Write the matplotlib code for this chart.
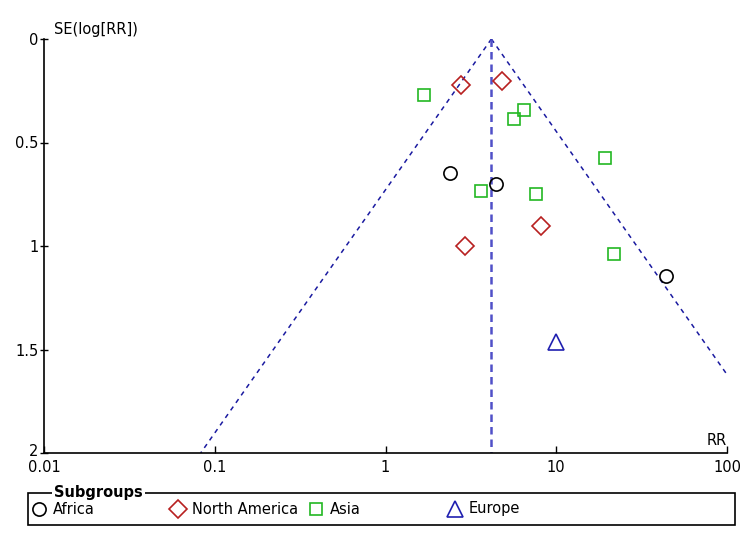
import numpy as np
import matplotlib
matplotlib.use('Agg')
from matplotlib import pyplot as plt
from matplotlib.patches import Rectangle
from matplotlib.transforms import ScaledTranslation

# study estimates (RR, SE of log RR)
africa_rr = [2.4, 4.46, 44.0]
africa_se = [0.647, 0.70, 1.145]
namerica_rr = [2.78, 4.83, 8.17, 2.94]
namerica_se = [0.222, 0.203, 0.903, 1.0]
asia_rr = [1.67, 6.5, 5.68, 19.4, 3.64, 7.64, 21.8]
asia_se = [0.27, 0.343, 0.386, 0.575, 0.734, 0.749, 1.039]
europe_rr = [10.0]
europe_se = [1.464]
pooled_rr = 4.17

x_ticks = [0.01, 0.1, 1, 10, 100]
x_labels = ['0.01', '0.1', '1', '10', '100']
y_ticks = [0, 0.5, 1, 1.5, 2]
y_labels = ['0', '0.5', '1', '1.5', '2']

W, H = 750, 537
fig = plt.figure(figsize=(7.5, 5.37), dpi=100)
ax = fig.add_axes([44 / W, 1 - 453 / H, (727 - 44) / W, (453 - 39) / H])

# funnel lines
se_line = np.array([0.0, 2.0])
ax.plot(pooled_rr * np.exp(-1.96 * se_line), se_line, ls=(0, (3, 3)), c='#1a1aa0', lw=1.1)
ax.plot(pooled_rr * np.exp(1.96 * se_line), se_line, ls=(0, (3, 3)), c='#1a1aa0', lw=1.1)
ax.plot([pooled_rr, pooled_rr], [0, 2], ls=(0, (3, 2)), c='#5050c8', lw=1.8)

ax.plot(africa_rr, africa_se, 'o', mfc='none', mec='black', ms=9.5, mew=1.2, ls='none')
ax.plot(namerica_rr, namerica_se, 'D', mfc='none', mec='#b82020', ms=9, mew=1.2, ls='none')
ax.plot(asia_rr, asia_se, 's', mfc='none', mec='#22b822', ms=8, mew=1.2, ls='none')
ax.plot(europe_rr, europe_se, '^', mfc='none', mec='#2020b0', ms=12, mew=1.2, ls='none')

ax.set_xscale('log')
ax.set_xlim(0.01, 100)
ax.set_ylim(2, 0)
ax.set_xticks(x_ticks)
ax.set_xticklabels(x_labels)
ax.set_yticks(y_ticks)
ax.set_yticklabels(y_labels)
ax.minorticks_off()
ax.tick_params(axis='x', labelsize=10.5, length=5, width=1, direction='in', pad=5)
ax.tick_params(axis='y', labelsize=10.5, length=6, width=1, direction='inout', pad=1)
ax.spines['top'].set_visible(False)
ax.spines['right'].set_visible(False)
ax.spines['left'].set_linewidth(1.2)
ax.spines['bottom'].set_linewidth(1.2)
ax.patch.set_visible(False)

# nudge the bottom y label up so it clears the first x label
lab = ax.get_yticklabels()[-1]
lab.set_transform(lab.get_transform() + ScaledTranslation(0, 3 / 100, fig.dpi_scale_trans))

ax.text(0.015, 1.005, 'SE(log[RR])', transform=ax.transAxes, fontsize=10.5, va='bottom', ha='left')
ax.text(1.0, 0.012, 'RR', transform=ax.transAxes, fontsize=10.5, va='bottom', ha='right')

# legend box (fieldset style)
lax = fig.add_axes([0, 0, 1, 1])
lax.set_xlim(0, W)
lax.set_ylim(H, 0)
lax.axis('off')
lax.add_patch(Rectangle((28, 493), 707, 32, fill=False, ec='black', lw=1.2))
lax.text(54, 493, 'Subgroups', fontsize=10.5, fontweight='bold', va='center', ha='left',
         bbox=dict(fc='white', ec='none', pad=1.5))
legend_names = ['Africa', 'North America', 'Asia', 'Europe']
legend_x = [39, 178, 316, 455]
legend_style = [('o', 'black', 9.5), ('D', '#b82020', 9), ('s', '#22b822', 8), ('^', '#2020b0', 12)]
for name, lx, (mk, col, ms) in zip(legend_names, legend_x, legend_style):
    lax.plot([lx], [509], mk, mfc='none', mec=col, ms=ms, mew=1.2)
    lax.text(lx + 14, 509, name, fontsize=10.5, va='center', ha='left')

fig.savefig('out.png', dpi=100)
